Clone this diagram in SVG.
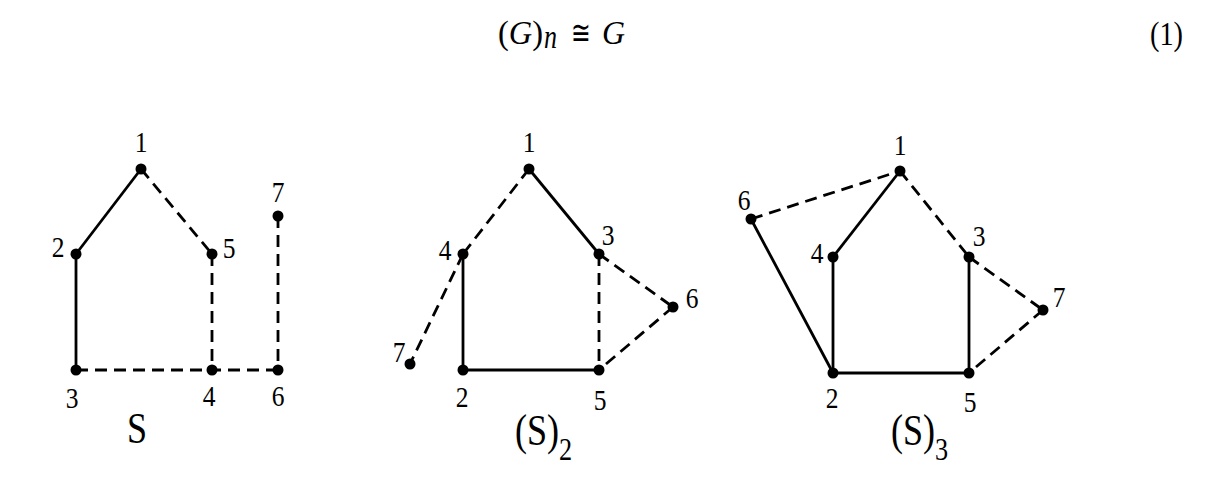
<svg xmlns="http://www.w3.org/2000/svg" width="1226" height="484" viewBox="0 0 1226 484">
<style>
.bg{fill:#fff}
.e{stroke:#000;stroke-width:2.8;fill:none;stroke-linecap:butt}
.d{stroke-dasharray:12 7}
.n{fill:#000}
.lbl{font-family:"Liberation Serif","Times New Roman",serif;font-size:30px;fill:#000;text-anchor:middle}
.ttl{font-family:"Liberation Serif","Times New Roman",serif;font-size:44px;fill:#000}
.sub{font-size:32px}
.math{font-family:"Liberation Serif","Times New Roman",serif;font-size:33px;fill:#000}
.it{font-style:italic}
</style>
<rect class="bg" x="0" y="0" width="1226" height="484"/>
<g id="formula">
<text class="math" x="498" y="44" textLength="45" lengthAdjust="spacingAndGlyphs">(<tspan class="it">G</tspan>)</text>
<text class="math it" x="544" y="48" font-size="20" textLength="13" lengthAdjust="spacingAndGlyphs">n</text>
<text class="math" x="571" y="44" textLength="20" lengthAdjust="spacingAndGlyphs">≅</text>
<text class="math it" x="602" y="44" textLength="23" lengthAdjust="spacingAndGlyphs">G</text>
<text class="math" x="1150" y="45" font-size="35" textLength="33" lengthAdjust="spacingAndGlyphs">(1)</text>
</g>
<g id="connectors">
<line class="e" x1="141" y1="169" x2="76" y2="254"/>
<line class="e d" x1="141" y1="169" x2="212" y2="254"/>
<line class="e" x1="76" y1="254" x2="76" y2="370"/>
<line class="e d" x1="212" y1="254" x2="212" y2="370"/>
<line class="e d" x1="76" y1="370" x2="278" y2="370"/>
<line class="e d" x1="278" y1="216" x2="278" y2="370"/>
<line class="e d" x1="529" y1="169" x2="463" y2="254"/>
<line class="e" x1="529" y1="169" x2="599" y2="254"/>
<line class="e" x1="463" y1="254" x2="463" y2="370"/>
<line class="e" x1="463" y1="370" x2="599" y2="370"/>
<line class="e d" x1="599" y1="254" x2="599" y2="370"/>
<line class="e d" x1="599" y1="254" x2="673" y2="307"/>
<line class="e d" x1="673" y1="307" x2="599" y2="370"/>
<line class="e d" x1="463" y1="254" x2="410" y2="364"/>
<line class="e d" x1="751" y1="219" x2="900" y2="171"/>
<line class="e" x1="900" y1="171" x2="833" y2="257"/>
<line class="e d" x1="900" y1="171" x2="969" y2="257"/>
<line class="e d" x1="969" y1="257" x2="1043" y2="310"/>
<line class="e" x1="751" y1="219" x2="833" y2="373"/>
<line class="e" x1="833" y1="257" x2="833" y2="373"/>
<line class="e" x1="833" y1="373" x2="969" y2="373"/>
<line class="e" x1="969" y1="257" x2="969" y2="373"/>
<line class="e d" x1="1043" y1="310" x2="969" y2="373"/>
</g>
<g id="graph-S">
<g id="S-n1"><circle class="n" cx="141" cy="169" r="5.5"/><text class="lbl" transform="translate(141,152) scale(0.85,1)">1</text></g>
<g id="S-n2"><circle class="n" cx="76" cy="254" r="5.5"/><text class="lbl" transform="translate(58,257) scale(0.85,1)">2</text></g>
<g id="S-n5"><circle class="n" cx="212" cy="254" r="5.5"/><text class="lbl" transform="translate(229,258) scale(0.85,1)">5</text></g>
<g id="S-n7"><circle class="n" cx="278" cy="216" r="5.5"/><text class="lbl" transform="translate(278,202) scale(0.85,1)">7</text></g>
<g id="S-n3"><circle class="n" cx="76" cy="370" r="5.5"/><text class="lbl" transform="translate(72,408) scale(0.85,1)">3</text></g>
<g id="S-n4"><circle class="n" cx="212" cy="370" r="5.5"/><text class="lbl" transform="translate(209,406) scale(0.85,1)">4</text></g>
<g id="S-n6"><circle class="n" cx="278" cy="370" r="5.5"/><text class="lbl" transform="translate(278,406) scale(0.85,1)">6</text></g>
<text class="ttl" transform="translate(137,443) scale(0.82,1)" text-anchor="middle">S</text>
</g>
<g id="graph-S2">
<g id="S2-n1"><circle class="n" cx="529" cy="169" r="5.5"/><text class="lbl" transform="translate(529,152) scale(0.85,1)">1</text></g>
<g id="S2-n4"><circle class="n" cx="463" cy="254" r="5.5"/><text class="lbl" transform="translate(445,260) scale(0.85,1)">4</text></g>
<g id="S2-n3"><circle class="n" cx="599" cy="254" r="5.5"/><text class="lbl" transform="translate(608,245) scale(0.85,1)">3</text></g>
<g id="S2-n6"><circle class="n" cx="673" cy="307" r="5.5"/><text class="lbl" transform="translate(692,308) scale(0.85,1)">6</text></g>
<g id="S2-n7"><circle class="n" cx="410" cy="364" r="5.5"/><text class="lbl" transform="translate(399,362) scale(0.85,1)">7</text></g>
<g id="S2-n2"><circle class="n" cx="463" cy="370" r="5.5"/><text class="lbl" transform="translate(462,407) scale(0.85,1)">2</text></g>
<g id="S2-n5"><circle class="n" cx="599" cy="370" r="5.5"/><text class="lbl" transform="translate(600,410) scale(0.85,1)">5</text></g>
<text class="ttl" transform="translate(515,445) scale(0.82,1)">(S)<tspan class="sub" dy="15">2</tspan></text>
</g>
<g id="graph-S3">
<g id="S3-n1"><circle class="n" cx="900" cy="171" r="5.5"/><text class="lbl" transform="translate(900,155) scale(0.85,1)">1</text></g>
<g id="S3-n6"><circle class="n" cx="751" cy="219" r="5.5"/><text class="lbl" transform="translate(744,210) scale(0.85,1)">6</text></g>
<g id="S3-n4"><circle class="n" cx="833" cy="257" r="5.5"/><text class="lbl" transform="translate(817,263) scale(0.85,1)">4</text></g>
<g id="S3-n3"><circle class="n" cx="969" cy="257" r="5.5"/><text class="lbl" transform="translate(979,246) scale(0.85,1)">3</text></g>
<g id="S3-n7"><circle class="n" cx="1043" cy="310" r="5.5"/><text class="lbl" transform="translate(1059,307) scale(0.85,1)">7</text></g>
<g id="S3-n2"><circle class="n" cx="833" cy="373" r="5.5"/><text class="lbl" transform="translate(832,408) scale(0.85,1)">2</text></g>
<g id="S3-n5"><circle class="n" cx="969" cy="373" r="5.5"/><text class="lbl" transform="translate(970,412) scale(0.85,1)">5</text></g>
<text class="ttl" transform="translate(891,445) scale(0.82,1)">(S)<tspan class="sub" dy="15">3</tspan></text>
</g>
</svg>
